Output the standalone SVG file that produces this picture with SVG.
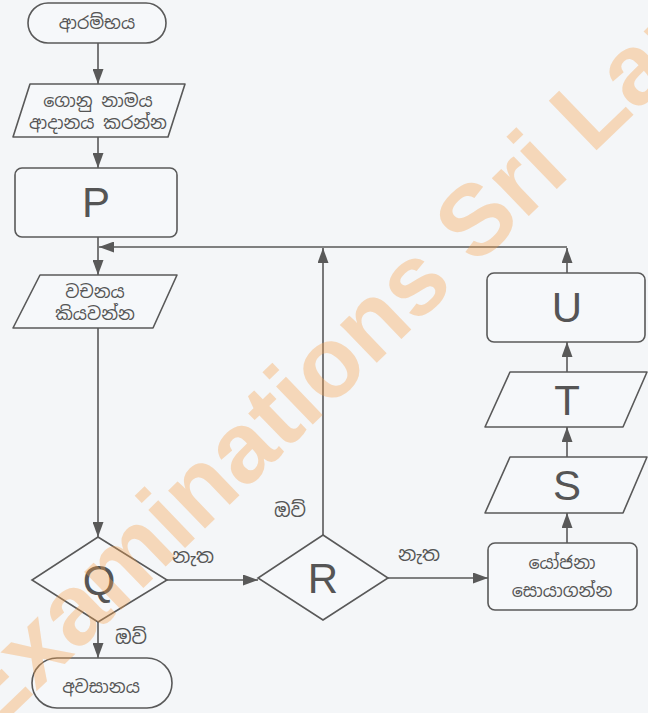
<svg xmlns="http://www.w3.org/2000/svg" width="648" height="713" viewBox="0 0 648 713">
<defs>
<marker id="ah" markerUnits="userSpaceOnUse" markerWidth="15" markerHeight="11" refX="15" refY="5.5" orient="auto">
<path d="M0,0 L15,5.5 L0,11 z" fill="#595959"/>
</marker>
<style>
.shape{fill:#f6f8fa;stroke:#595959;stroke-width:1.6}
.conn{fill:none;stroke:#595959;stroke-width:1.6}
.si{font-family:"Noto Sans Sinhala","Noto Sans",sans-serif;font-size:17.5px;fill:#555;text-anchor:middle}
.lbl{font-family:"Noto Sans Sinhala","Noto Sans",sans-serif;font-size:19px;fill:#555;text-anchor:middle}
.big{font-family:"Liberation Sans",Arial,sans-serif;font-size:42px;fill:#555;text-anchor:middle}
.wm{font-family:"Liberation Sans",Arial,sans-serif;font-size:100px;font-weight:bold;fill:#f7a04a;fill-opacity:0.36}
</style>
</defs>
<rect x="0" y="0" width="648" height="713" fill="#f4f6f8"/>

<g id="connectors">
<path class="conn" d="M98,43 V84" marker-end="url(#ah)"/>
<path class="conn" d="M98,137 V168" marker-end="url(#ah)"/>
<path class="conn" d="M98,237 V275" marker-end="url(#ah)"/>
<path class="conn" d="M567,247 H99" marker-end="url(#ah)"/>
<path class="conn" d="M98,328 V537" marker-end="url(#ah)"/>
<path class="conn" d="M167,580 H258" marker-end="url(#ah)"/>
<path class="conn" d="M98,622 V658" marker-end="url(#ah)"/>
<path class="conn" d="M323,535 V248" marker-end="url(#ah)"/>
<path class="conn" d="M388,578 H488" marker-end="url(#ah)"/>
<path class="conn" d="M567,543 V513" marker-end="url(#ah)"/>
<path class="conn" d="M567,457 V427" marker-end="url(#ah)"/>
<path class="conn" d="M567,372 V342" marker-end="url(#ah)"/>
<path class="conn" d="M567,273 V248" marker-end="url(#ah)"/>
<text class="lbl" x="193" y="563">නැත</text>
<text class="lbl" x="131" y="644">ඔව්</text>
<text class="lbl" x="290" y="517">ඔව්</text>
<text class="lbl" x="419" y="561">නැත</text>
</g>

<g id="start">
<rect class="shape" x="28" y="3" width="138" height="40" rx="20"/>
<text class="si" x="97" y="29">ආරම්භය</text>
</g>
<g id="input-file">
<path class="shape" d="M30,84 L185,84 L168,137 L13,137 Z" stroke-linejoin="round"/>
<text class="si" x="98" y="107">ගොනු නාමය</text>
<text class="si" x="98" y="129">ආදානය කරන්න</text>
</g>
<g id="P">
<rect class="shape" x="15" y="168" width="162" height="69" rx="7"/>
<text class="big" x="96" y="217">P</text>
</g>
<g id="read-word">
<path class="shape" d="M40,275 L177,275 L153,328 L13,328 Z" stroke-linejoin="round"/>
<text class="si" x="95" y="298">වචනය</text>
<text class="si" x="95" y="320">කියවන්න</text>
</g>
<g id="Q">
<path class="shape" d="M98,537 L167,580 L98,622 L32,580 Z"/>
<text class="big" x="99" y="595">Q</text>
</g>
<g id="end">
<rect class="shape" x="32" y="658" width="140" height="50" rx="25"/>
<text class="si" x="101" y="693">අවසානය</text>
</g>
<g id="R">
<path class="shape" d="M323,535 L388,578 L323,620 L258,578 Z"/>
<text class="big" x="323" y="593">R</text>
</g>
<g id="suggest">
<rect class="shape" x="488" y="543" width="149" height="67" rx="7"/>
<text class="si" x="562" y="569">යෝජනා</text>
<text class="si" x="562" y="597">සොයාගන්න</text>
</g>
<g id="S">
<path class="shape" d="M510,457 L647,457 L623,513 L485,513 Z" stroke-linejoin="round"/>
<text class="big" x="567" y="500">S</text>
</g>
<g id="T">
<path class="shape" d="M510,372 L647,372 L623,427 L485,427 Z" stroke-linejoin="round"/>
<text class="big" x="567" y="415">T</text>
</g>
<g id="U">
<rect class="shape" x="487" y="273" width="158" height="69" rx="7"/>
<text class="big" x="567" y="322">U</text>
</g>

<g id="watermark">
<text class="wm" transform="translate(-12,738) rotate(-44)">Examinations Sri Lanka</text>
</g>
</svg>
